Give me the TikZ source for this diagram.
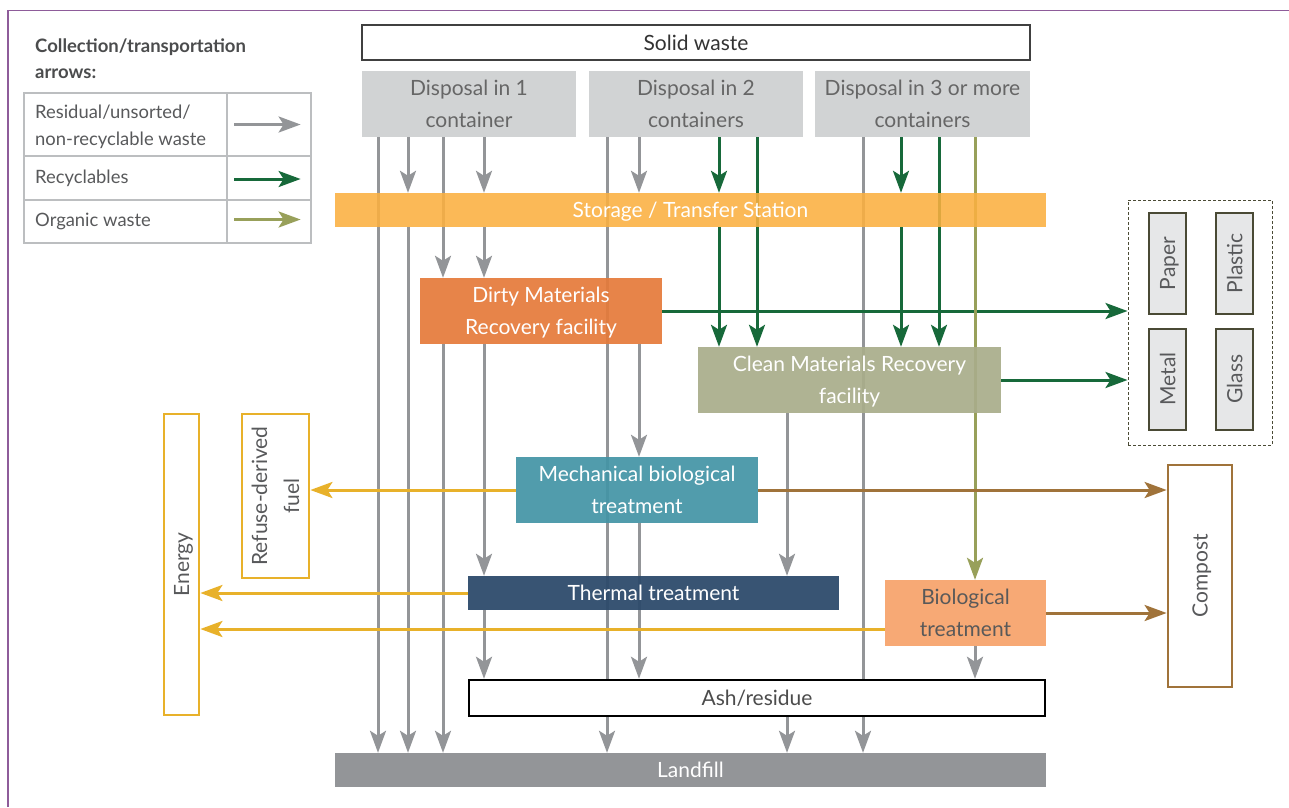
\documentclass[tikz,border=0pt]{standalone}
\usepackage{fontspec}
\setmainfont{Lato}
\usetikzlibrary{arrows.meta,calc}
\pgfdeclarelayer{back}
\pgfdeclarelayer{bg}
\pgfsetlayers{back,bg,main}
\definecolor{tgray}{HTML}{58595B}
\definecolor{dgray}{HTML}{D1D3D4}
\definecolor{agray}{HTML}{939598}
\definecolor{stor}{HTML}{FBB040}
\definecolor{dirty}{HTML}{E57A3A}
\definecolor{clean}{HTML}{A9AD8A}
\definecolor{mbtc}{HTML}{4394A6}
\definecolor{therm}{HTML}{2C4A6B}
\definecolor{bioc}{HTML}{F7A975}
\definecolor{grn}{HTML}{17693A}
\definecolor{olv}{HTML}{98A05A}
\definecolor{ylw}{HTML}{E8B12A}
\definecolor{brn}{HTML}{A0733A}
\definecolor{purp}{HTML}{8E5C9A}
\definecolor{lgbord}{HTML}{BCBEC0}
\definecolor{matb}{HTML}{4A4A35}
\definecolor{matf}{HTML}{E6E7E8}
\begin{document}
\begin{tikzpicture}[x=1pt,y=-1pt,
  txt/.style={text=tgray,font=\fontsize{21}{32}\selectfont,align=center},
  box/.style={rectangle,inner sep=0pt,text depth=0pt,txt},
  wtxt/.style={text=white},
  arr/.style={line width=3pt,-{Stealth[length=22pt,width=16pt,inset=5pt]}},
  lgcell/.style={rectangle,draw=lgbord,line width=1.2pt,inner sep=0pt},
  lgtxt/.style={text=tgray,font=\fontsize{18.4}{27}\selectfont,align=left},
  matbox/.style={box,draw=matb,fill=matf,line width=2pt,rotate=90,minimum width=101pt,minimum height=37pt}
]
\useasboundingbox (0,0) rectangle (1289,807);
\begin{pgfonlayer}{back}
\fill[white] (0,0) rectangle (1289,807);
\end{pgfonlayer}
\draw[purp,line width=1.5pt] (8,807) -- (8,10.5) -- (1289,10.5);

% legend
\node[anchor=north west,text=tgray!85!black,font=\bfseries\fontsize{18.5}{26}\selectfont,align=left,inner sep=0pt] (lgtitle) at (35,39) {Collection/transportation\\arrows:};
\node[lgcell,minimum width=203pt,minimum height=63pt] (l1t) at (125.5,124.5) {};
\node[lgcell,minimum width=84pt,minimum height=63pt] (l1a) at (269,124.5) {};
\node[lgcell,minimum width=203pt,minimum height=44pt] (l2t) at (125.5,178) {};
\node[lgcell,minimum width=84pt,minimum height=44pt] (l2a) at (269,178) {};
\node[lgcell,minimum width=203pt,minimum height=43pt] (l3t) at (125.5,221.5) {};
\node[lgcell,minimum width=84pt,minimum height=43pt] (l3a) at (269,221.5) {};
\node[lgtxt,anchor=west,inner sep=0pt] (l1x) at (35,127) {Residual/unsorted/\\non-recyclable waste};
\node[lgtxt,anchor=west,inner sep=0pt] (l2x) at (35,178) {Recyclables};
\node[lgtxt,anchor=west,inner sep=0pt] (l3x) at (35,221) {Organic waste};
\draw[arr,agray] ([xshift=8pt]l1a.west) -- ([xshift=-11pt]l1a.east);
\draw[arr,grn] ([xshift=8pt,yshift=-1pt]l2a.west) -- ([xshift=-11pt,yshift=-1pt]l2a.east);
\draw[arr,olv] ([xshift=8pt,yshift=2pt]l3a.west) -- ([xshift=-11pt,yshift=2pt]l3a.east);

% columns
\coordinate (xa) at (378,0);
\coordinate (xb) at (408,0);
\coordinate (xc) at (443,0);
\coordinate (xd) at (484,0);
\coordinate (xe) at (607,0);
\coordinate (xf) at (639,0);
\coordinate (xg) at (719,0);
\coordinate (xh) at (757,0);
\coordinate (xi) at (787,0);
\coordinate (xj) at (863,0);
\coordinate (xk) at (901,0);
\coordinate (xl) at (939,0);
\coordinate (xm) at (975,0);

% main boxes
\node[box,draw=black!75,line width=1.5pt,fill=white,minimum width=668pt,minimum height=35pt,text=black!80] (solid) at (696,42.5) {Solid waste};
\node[box,fill=dgray,minimum width=214pt,minimum height=66pt,text=black!60] (d1) at (469,104) {Disposal in 1\\container};
\node[box,fill=dgray,minimum width=214pt,minimum height=66pt,text=black!60] (d2) at (696,104) {Disposal in 2\\containers};
\node[box,fill=dgray,minimum width=215pt,minimum height=66pt,text=black!60] (d3) at (922.5,104) {Disposal in 3 or more\\containers};
\node[box,fill=stor,fill opacity=0.88,text opacity=1,minimum width=711pt,minimum height=34pt,wtxt] (stor) at (690.5,210) {Storage / Transfer Station};
\node[box,fill=dirty,fill opacity=0.92,text opacity=1,minimum width=242pt,minimum height=66pt,wtxt] (dirty) at (541,311) {Dirty Materials\\Recovery facility};
\node[box,fill=clean,fill opacity=0.92,text opacity=1,minimum width=303pt,minimum height=66pt,wtxt] (clean) at (849.5,380) {Clean Materials Recovery\\facility};
\node[box,fill=mbtc,fill opacity=0.92,text opacity=1,minimum width=242pt,minimum height=66pt,wtxt] (mbt) at (637,490) {Mechanical biological\\treatment};
\node[box,fill=therm,fill opacity=0.94,text opacity=1,minimum width=371pt,minimum height=34pt,wtxt] (therm) at (653.5,593) {Thermal treatment};
\node[box,fill=bioc,minimum width=161pt,minimum height=66pt,text=black!65] (bio) at (965.5,613) {Biological\\treatment};
\node[box,draw=black,line width=2.5pt,fill=white,minimum width=576pt,minimum height=36pt,text=black!70] (ash) at (757,698) {Ash/residue};
\node[box,fill=agray,minimum width=711pt,minimum height=34pt,wtxt] (landfill) at (690.5,770) {Landfill};

% side boxes (rotated)
\node[box,draw=ylw,line width=2.8pt,rotate=90,minimum width=301pt,minimum height=35pt] (energy) at (181.5,564.5) {Energy};
\node[box,draw=ylw,line width=2.8pt,rotate=90,minimum width=164pt,minimum height=67pt] (rdf) at (275.5,496) {Refuse-derived\\fuel};
\node[box,draw=brn,line width=2.8pt,rotate=90,minimum width=222pt,minimum height=64pt] (compost) at (1200,576) {Compost};
\node[box,draw=matb,dash pattern=on 3pt off 2pt,line width=1pt,minimum width=144pt,minimum height=245pt] (recyc) at (1200,322.5) {};
\node[matbox] (paper) at (1167.5,263.5) {Paper};
\node[matbox] (plastic) at (1234.5,263.5) {Plastic};
\node[matbox] (metal) at (1167.5,379) {Metal};
\node[matbox] (glass) at (1234.5,379) {Glass};

\begin{pgfonlayer}{bg}
% gray residual flows
\draw[arr,agray] (d1.south -| xa) -- (landfill.north -| xa);
\draw[arr,agray] (d1.south -| xb) -- (stor.north -| xb);
\draw[arr,agray] (stor.south -| xb) -- (landfill.north -| xb);
\draw[arr,agray] (d1.south -| xc) -- (dirty.north -| xc);
\draw[arr,agray] (dirty.south -| xc) -- (landfill.north -| xc);
\draw[arr,agray] (d1.south -| xd) -- (stor.north -| xd);
\draw[arr,agray] (stor.south -| xd) -- (dirty.north -| xd);
\draw[arr,agray] (dirty.south -| xd) -- (therm.north -| xd);
\draw[arr,agray] (therm.south -| xd) -- (ash.north -| xd);
\draw[arr,agray] (d2.south -| xe) -- (landfill.north -| xe);
\draw[arr,agray] (d2.south -| xf) -- (stor.north -| xf);
\draw[arr,agray] (dirty.south -| xf) -- (mbt.north -| xf);
\draw[arr,agray] (mbt.south -| xf) -- (ash.north -| xf);
\draw[arr,agray] (clean.south -| xi) -- (therm.north -| xi);
\draw[arr,agray] (ash.south -| xi) -- (landfill.north -| xi);
\draw[arr,agray] (d3.south -| xj) -- (landfill.north -| xj);
\draw[arr,agray] (bio.south -| xm) -- (ash.north -| xm);
% recyclables
\draw[arr,grn] (d2.south -| xg) -- (stor.north -| xg);
\draw[arr,grn] (stor.south -| xg) -- (clean.north -| xg);
\draw[arr,grn] (d2.south -| xh) -- (clean.north -| xh);
\draw[arr,grn] (d3.south -| xk) -- (stor.north -| xk);
\draw[arr,grn] (stor.south -| xk) -- (clean.north -| xk);
\draw[arr,grn] (d3.south -| xl) -- (clean.north -| xl);
\draw[arr,grn] (dirty.east) -- (dirty.east -| recyc.west);
\draw[arr,grn] (clean.east) -- (clean.east -| recyc.west);
% organic
\draw[arr,olv] (d3.south -| xm) -- (bio.north -| xm);
% energy / fuel
\draw[arr,ylw] (mbt.west) -- (mbt.west -| rdf.south);
\draw[arr,ylw] (therm.west) -- (therm.west -| energy.south);
\draw[arr,ylw] ($(bio.west)+(0,16)$) -- ($(bio.west -| energy.south)+(0,16)$);
% compost
\draw[arr,brn] (mbt.east) -- (mbt.east -| compost.north);
\draw[arr,brn] (bio.east) -- (bio.east -| compost.north);
\end{pgfonlayer}
\end{tikzpicture}
\end{document}
